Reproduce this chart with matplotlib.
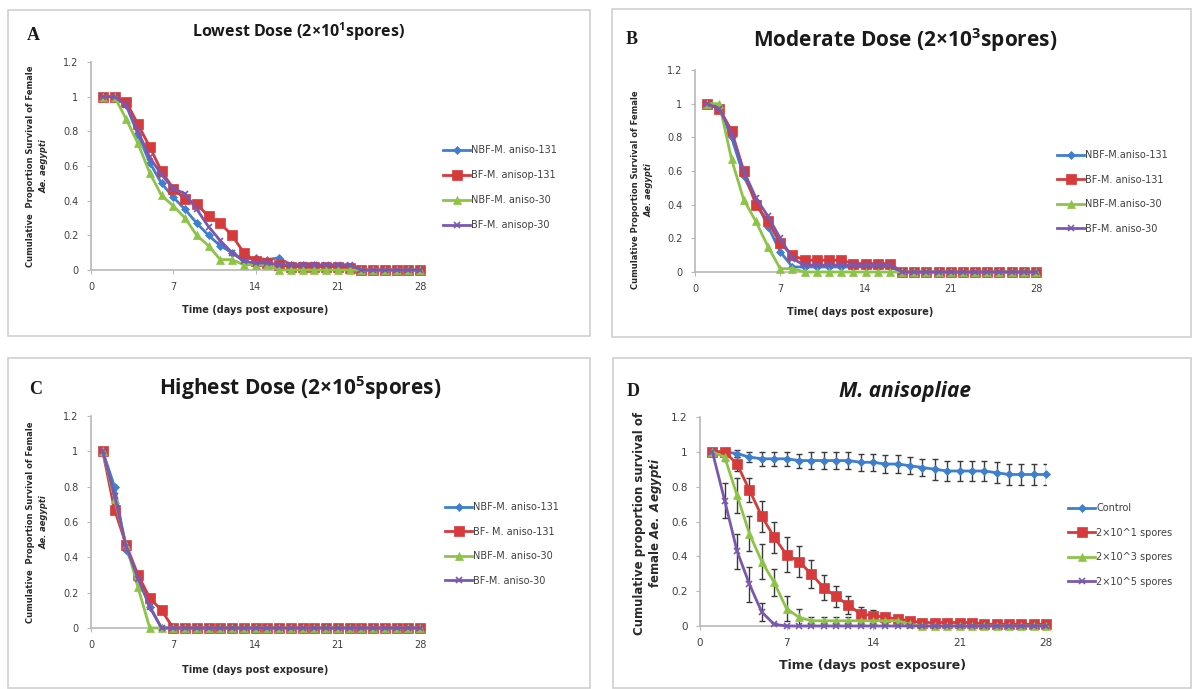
import matplotlib
matplotlib.use("Agg")
import matplotlib.pyplot as plt
from matplotlib.patches import Rectangle
from matplotlib.ticker import FuncFormatter

days = list(range(1, 29))

# Panel A - lowest dose
a_labels = ["NBF-M. aniso-131", "BF-M. anisop-131", "NBF-M. aniso-30", "BF-M. anisop-30"]
a_nbf131 = [1, 1, 0.95, 0.78, 0.62, 0.50, 0.42, 0.35, 0.27, 0.20, 0.14, 0.10, 0.06, 0.07, 0.06, 0.07,
            0.03, 0.03, 0.03, 0.02, 0.02, 0.02, 0, 0, 0, 0, 0, 0]
a_bf131 = [1, 1, 0.97, 0.84, 0.71, 0.57, 0.47, 0.41, 0.38, 0.31, 0.27, 0.20, 0.10, 0.05, 0.04, 0.03,
           0.02, 0.02, 0.02, 0.02, 0.02, 0.01, 0, 0, 0, 0, 0, 0]
a_nbf30 = [1, 1, 0.87, 0.73, 0.56, 0.43, 0.37, 0.30, 0.20, 0.14, 0.06, 0.06, 0.03, 0.03, 0.03, 0,
           0, 0, 0, 0, 0, 0, 0, 0, 0, 0, 0, 0]
a_bf30 = [1, 1, 0.95, 0.80, 0.65, 0.55, 0.47, 0.44, 0.35, 0.25, 0.17, 0.10, 0.05, 0.04, 0.04, 0.03,
          0.03, 0.03, 0.03, 0.03, 0.03, 0.03, 0, 0, 0, 0, 0, 0]

# Panel B - moderate dose
b_labels = ["NBF-M.aniso-131", "BF-M. aniso-131", "NBF-M.aniso-30", "BF-M. aniso-30"]
b_nbf131 = [1, 0.97, 0.80, 0.57, 0.42, 0.27, 0.12, 0.03, 0.03, 0.03, 0.03, 0.03, 0.03, 0.03, 0.03, 0.03,
            0, 0, 0, 0, 0, 0, 0, 0, 0, 0, 0, 0]
b_bf131 = [1, 0.97, 0.84, 0.60, 0.40, 0.30, 0.17, 0.10, 0.07, 0.07, 0.07, 0.07, 0.05, 0.05, 0.05, 0.05,
           0, 0, 0, 0, 0, 0, 0, 0, 0, 0, 0, 0]
b_nbf30 = [1, 1, 0.67, 0.43, 0.30, 0.15, 0.02, 0.02, 0, 0, 0, 0, 0, 0, 0, 0,
           0, 0, 0, 0, 0, 0, 0, 0, 0, 0, 0, 0]
b_bf30 = [1, 0.97, 0.82, 0.60, 0.44, 0.33, 0.20, 0.08, 0.04, 0.04, 0.04, 0.04, 0.04, 0.04, 0.04, 0.04,
          0, 0, 0, 0, 0, 0, 0, 0, 0, 0, 0, 0]

# Panel C - highest dose
c_labels = ["NBF-M. aniso-131", "BF- M. aniso-131", "NBF-M. aniso-30", "BF-M. aniso-30"]
c_nbf131 = [1, 0.80, 0.44, 0.30, 0.12, 0] + [0] * 22
c_bf131 = [1, 0.67, 0.47, 0.30, 0.17, 0.10] + [0] * 22
c_nbf30 = [1, 0.73, 0.47, 0.23, 0, 0] + [0] * 22
c_bf30 = [1, 0.75, 0.46, 0.28, 0.12, 0] + [0] * 22

# Panel D - M. anisopliae overall
d_labels = ["Control", "2×10^1 spores", "2×10^3 spores", "2×10^5 spores"]
d_control = [1, 1, 0.99, 0.97, 0.96, 0.96, 0.96, 0.95, 0.95, 0.95, 0.95, 0.95, 0.94, 0.94, 0.93, 0.93,
             0.92, 0.91, 0.90, 0.89, 0.89, 0.89, 0.89, 0.88, 0.87, 0.87, 0.87, 0.87]
d_control_err = [0, 0, 0.02, 0.03, 0.04, 0.04, 0.04, 0.04, 0.05, 0.05, 0.05, 0.05, 0.05, 0.05, 0.05, 0.05,
                 0.05, 0.05, 0.06, 0.06, 0.06, 0.06, 0.06, 0.06, 0.06, 0.06, 0.06, 0.06]
d_low = [1, 1, 0.93, 0.78, 0.63, 0.51, 0.41, 0.37, 0.30, 0.22, 0.17, 0.12, 0.07, 0.06, 0.05, 0.04,
         0.03, 0.02, 0.02, 0.02, 0.02, 0.02, 0.01, 0.01, 0.01, 0.01, 0.01, 0.01]
d_low_err = [0, 0, 0.04, 0.07, 0.09, 0.09, 0.10, 0.09, 0.08, 0.07, 0.06, 0.05, 0.04, 0.03, 0.02, 0.02,
             0.01, 0.01, 0.01, 0.01, 0.01, 0.01, 0, 0, 0, 0, 0, 0]
d_mid = [1, 0.97, 0.75, 0.53, 0.37, 0.25, 0.10, 0.05, 0.03, 0.03, 0.03, 0.03, 0.03, 0.03, 0.03, 0.03,
         0.01, 0, 0, 0, 0, 0, 0, 0, 0, 0, 0, 0]
d_mid_err = [0, 0.02, 0.10, 0.10, 0.10, 0.08, 0.07, 0.05, 0.02, 0.02, 0.02, 0.02, 0.02, 0.02, 0.02, 0.02,
             0.01, 0, 0, 0, 0, 0, 0, 0, 0, 0, 0, 0]
d_high = [1, 0.72, 0.43, 0.24, 0.08, 0.01, 0] + [0] * 21
d_high_err = [0, 0.10, 0.10, 0.10, 0.05, 0.01, 0] + [0] * 21

xticks = [0, 7, 14, 21, 28]
yticks = [0, 0.2, 0.4, 0.6, 0.8, 1, 1.2]

colors = ["#3f7fd0", "#d63a3a", "#8dc447", "#7a58b0"]
markers = ["D", "s", "^", "x"]
msizes = [4, 6.5, 5.5, 5]

W, H = 1192, 689
fig = plt.figure(figsize=(W / 100, H / 100), dpi=100)
fig.patch.set_facecolor("white")

def fx(px):
    return px / W

def fy(py):
    return 1 - py / H

# Panel borders
for (x0, y0, x1, y1) in [(8, 10, 590, 336), (612, 9, 1191, 337), (8, 358, 590, 688), (613, 358, 1191, 688)]:
    fig.patches.append(Rectangle((fx(x0), fy(y1)), fx(x1 - x0), (y1 - y0) / H,
                                 transform=fig.transFigure, fill=False, edgecolor="#cfcfcf", lw=1.2))

def style_axes(ax, tick_fs):
    ax.set_xlim(0, 28)
    ax.set_ylim(0, 1.2)
    ax.set_xticks(xticks)
    ax.set_yticks(yticks)
    ax.yaxis.set_major_formatter(FuncFormatter(lambda v, p: "%g" % round(v, 1)))
    for s in ["top", "right"]:
        ax.spines[s].set_visible(False)
    for s in ["left", "bottom"]:
        ax.spines[s].set_color("#b8b8b8")
        ax.spines[s].set_linewidth(1.2)
    ax.tick_params(axis="both", colors="#b8b8b8", labelcolor="#404040", labelsize=tick_fs, length=3, pad=6)

def make_panel(rect, series, labels, leg_xy, leg_spacing, tick_fs, errs=None):
    ax = fig.add_axes(rect)
    style_axes(ax, tick_fs)
    handles = []
    for i, ys in enumerate(series):
        if errs is not None:
            ax.errorbar(days, ys, yerr=errs[i], fmt="none", ecolor="#3a3a3a", elinewidth=1.0,
                        capsize=2.5, capthick=1.0, zorder=2)
        h, = ax.plot(days, ys, color=colors[i], marker=markers[i], markersize=msizes[i],
                     markeredgewidth=1.2 if markers[i] == "x" else 0.5, lw=2.0, label=labels[i],
                     clip_on=False, zorder=3)
        handles.append(h)
    ax.legend(handles=handles, loc="upper left", bbox_to_anchor=(fx(leg_xy[0]), fy(leg_xy[1])),
              bbox_transform=fig.transFigure, frameon=False, fontsize=7, handlelength=2.8,
              handletextpad=0.1, labelspacing=leg_spacing, borderpad=0, borderaxespad=0,
              labelcolor="#404040")
    return ax

axA = make_panel([fx(91), fy(270), fx(420 - 91), (270 - 62) / H],
                 [a_nbf131, a_bf131, a_nbf30, a_bf30], a_labels, (443, 145), 1.55, 7)
axB = make_panel([fx(695), fy(272), fx(1036 - 695), (272 - 70) / H],
                 [b_nbf131, b_bf131, b_nbf30, b_bf30], b_labels, (1057, 150), 1.5, 7)
axC = make_panel([fx(91), fy(628), fx(420 - 91), (628 - 416) / H],
                 [c_nbf131, c_bf131, c_nbf30, c_bf30], c_labels, (445, 502), 1.5, 7)
axD = make_panel([fx(700), fy(626), fx(1046 - 700), (626 - 417) / H],
                 [d_control, d_low, d_mid, d_high], d_labels, (1068, 503), 1.5, 7.5,
                 errs=[d_control_err, d_low_err, d_mid_err, d_high_err])

# Titles
title_font = "Open Sans"
fig.text(fx(298), fy(32), "Lowest Dose (2×10$^{\\mathregular{1}}$spores)", ha="center", va="center",
         fontsize=11.5, fontweight="bold", family=title_font, color="#1a1a1a")
fig.text(fx(905), fy(40), "Moderate Dose (2×10$^{\\mathregular{3}}$spores)", ha="center", va="center",
         fontsize=15, fontweight="bold", family=title_font, color="#1a1a1a")
fig.text(fx(300), fy(388), "Highest Dose (2×10$^{\\mathregular{5}}$spores)", ha="center", va="center",
         fontsize=15, fontweight="bold", family=title_font, color="#1a1a1a")
fig.text(fx(905), fy(392), "M. anisopliae", ha="center", va="center",
         fontsize=15, fontweight="bold", style="italic", family=title_font, color="#1a1a1a")

# Panel letters
for (x, y, t) in [(33, 36, "A"), (632, 40, "B"), (36, 389, "C"), (633, 392, "D")]:
    fig.text(fx(x), fy(y), t, ha="center", va="center", fontsize=13, fontweight="bold",
             family="Liberation Serif", color="#1a1a1a")

# Y labels
def ylabel2(x1, x2, yc, line1, line2, fs):
    fig.text(fx(x1), fy(yc), line1, rotation=90, ha="center", va="center", fontsize=fs,
             fontweight="bold", color="#2a2a2a")
    fig.text(fx(x2), fy(yc), line2, rotation=90, ha="center", va="center", fontsize=fs,
             fontweight="bold", style="italic", color="#2a2a2a")

ylabel2(31, 44, 166, "Cumulative  Proportion Survival of Female", "Ae. aegypti", 6)
ylabel2(636, 649, 190, "Cumulative Proportion Survival of Female", "Ae. aegypti", 6)
ylabel2(31, 44, 522, "Cumulative  Proportion Survival of Female", "Ae. aegypti", 6)
fig.text(fx(640), fy(523), "Cumulative proportion survival of", rotation=90, ha="center", va="center",
         fontsize=8.5, fontweight="bold", color="#2a2a2a")
fig.text(fx(656), fy(523), "female $\\mathbfit{Ae.\\ Aegypti}$", rotation=90, ha="center",
         va="center", fontsize=8.5, fontweight="bold", color="#2a2a2a")

# X labels
fig.text(fx(255), fy(310), "Time (days post exposure)", ha="center", va="center", fontsize=7,
         fontweight="bold", color="#2a2a2a")
fig.text(fx(860), fy(312), "Time( days post exposure)", ha="center", va="center", fontsize=7,
         fontweight="bold", color="#2a2a2a")
fig.text(fx(255), fy(670), "Time (days post exposure)", ha="center", va="center", fontsize=7,
         fontweight="bold", color="#2a2a2a")
fig.text(fx(873), fy(665), "Time (days post exposure)", ha="center", va="center", fontsize=9,
         fontweight="bold", color="#2a2a2a")

fig.savefig("out.png", dpi=100)
